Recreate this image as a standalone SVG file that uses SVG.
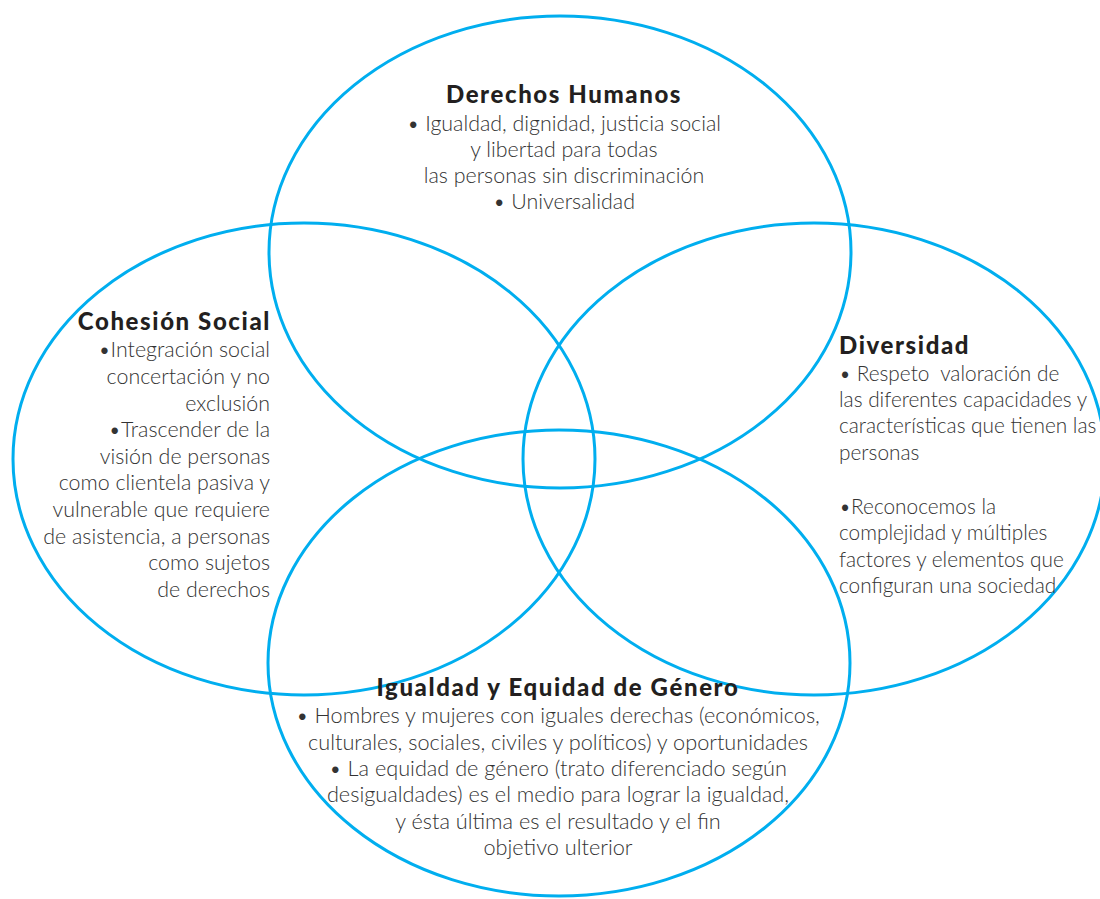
<svg xmlns="http://www.w3.org/2000/svg" width="1100" height="899" viewBox="0 0 1100 899">
<style>
.ring{fill:none;stroke:#00AEEF;stroke-width:3}
.t{font-family:Lato,"Open Sans","Liberation Sans",sans-serif;font-weight:900;font-size:24px;letter-spacing:1.6px;fill:#231F20}
.b{font-family:Lato,"Open Sans","Liberation Sans",sans-serif;font-weight:300;font-size:21.4px;fill:#333333;white-space:pre}
.d{font-size:20.8px}
.g{font-size:21.7px}
.c{text-anchor:middle}
.r{text-anchor:end}
</style>
<rect width="1100" height="899" fill="#ffffff"/>
<g id="connectors"></g>
<g id="rings">
<ellipse id="ring-top" class="ring" cx="560" cy="252" rx="291" ry="236"/>
<ellipse id="ring-left" class="ring" cx="304" cy="459" rx="291" ry="236"/>
<ellipse id="ring-right" class="ring" cx="814" cy="459" rx="291" ry="236"/>
<ellipse id="ring-bottom" class="ring" cx="559" cy="663" rx="291" ry="233"/>
</g>
<g id="derechos-humanos">
<text class="t c" x="564" y="103">Derechos Humanos</text>
<text class="b c" x="564" y="131">• Igualdad, dignidad, justicia social</text>
<text class="b c" x="564" y="157">y libertad para todas</text>
<text class="b c" x="564" y="183">las personas sin discriminación</text>
<text class="b c" x="564" y="209">• Universalidad</text>
</g>
<g id="cohesion-social">
<text class="t r" x="271" y="330">Cohesión Social</text>
<text class="b r" x="270" y="357">•Integración social</text>
<text class="b r" x="270" y="384">concertación y no</text>
<text class="b r" x="270" y="411">exclusión</text>
<text class="b r" x="270" y="437">•Trascender de la</text>
<text class="b r" x="270" y="464">visión de personas</text>
<text class="b r" x="270" y="490">como clientela pasiva y</text>
<text class="b r" x="270" y="517">vulnerable que requiere</text>
<text class="b r" x="270" y="544">de asistencia, a personas</text>
<text class="b r" x="270" y="570">como sujetos</text>
<text class="b r" x="270" y="597">de derechos</text>
</g>
<g id="diversidad">
<text class="t" x="839" y="354">Diversidad</text>
<text class="b d" x="839" y="381">• Respeto  valoración de</text>
<text class="b d" x="839" y="407">las diferentes capacidades y</text>
<text class="b d" x="839" y="433">características que tienen las</text>
<text class="b d" x="839" y="460">personas</text>
<text class="b d" x="839" y="514">•Reconocemos la</text>
<text class="b d" x="839" y="540">complejidad y múltiples</text>
<text class="b d" x="839" y="567">factores y elementos que</text>
<text class="b d" x="839" y="593">configuran una sociedad</text>
</g>
<g id="igualdad-genero">
<text class="t c" x="558" y="696">Igualdad y Equidad de Género</text>
<text class="b g c" x="558" y="723">• Hombres y mujeres con iguales derechas (económicos,</text>
<text class="b g c" x="558" y="750">culturales, sociales, civiles y políticos) y oportunidades</text>
<text class="b g c" x="558" y="776">• La equidad de género (trato diferenciado según</text>
<text class="b g c" x="558" y="802">desigualdades) es el medio para lograr la igualdad,</text>
<text class="b g c" x="558" y="829">y ésta última es el resultado y el fin</text>
<text class="b g c" x="558" y="855">objetivo ulterior</text>
</g>
</svg>
